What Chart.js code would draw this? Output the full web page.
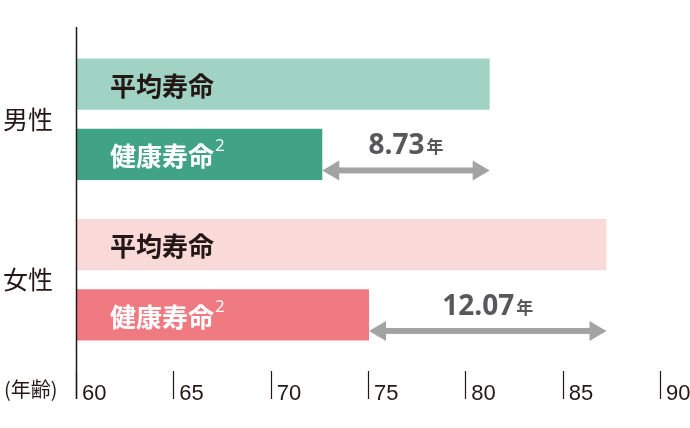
<!DOCTYPE html>
<html lang="ja">
<head>
<meta charset="utf-8">
<title>平均寿命と健康寿命</title>
<script src="https://cdn.jsdelivr.net/npm/chart.js@4.4.1/dist/chart.umd.min.js"></script>
<style>
  html, body { margin: 0; padding: 0; background: #fff; }
  #wrap { width: 690px; height: 428px; position: relative; }
</style>
</head>
<body>
<div id="wrap"><canvas id="lifeChart"></canvas></div>
<script>
// データ
const groups = ['男性', '女性'];
const seriesNames = ['平均寿命', '健康寿命'];
const noteMark = '2';
const avgLife = [81.2, 87.2];
const healthyLife = [72.6, 75.0];
const gapValues = ['8.73', '12.07'];
const gapUnit = '年';
const xTicks = [60, 65, 70, 75, 80, 85, 90];
const axisUnit = '(年齢)';

const avgColors = ['#a1d3c4', '#fad9d9'];
const healthyColors = ['#40a385', '#ef7a82'];
const textDark = '#231815';
const gapGray = '#a3a3a3';
const jpFont = "'Noto Sans CJK JP', sans-serif";

function drawDoubleArrow(ctx, x1, x2, y) {
    const head = 17, half = 10;
    ctx.fillStyle = gapGray;
    ctx.fillRect(x1 + head - 1, y - 3, (x2 - x1) - 2 * head + 2, 6);
    ctx.beginPath();
    ctx.moveTo(x1, y);
    ctx.lineTo(x1 + head, y - half);
    ctx.lineTo(x1 + head, y + half);
    ctx.closePath();
    ctx.fill();
    ctx.beginPath();
    ctx.moveTo(x2, y);
    ctx.lineTo(x2 - head, y - half);
    ctx.lineTo(x2 - head, y + half);
    ctx.closePath();
    ctx.fill();
}

// 軸線・目盛り・バー内ラベル・差の矢印
const decorations = {
    id: 'decorations',
    afterDatasetsDraw(chart) {
        const ctx = chart.ctx;
        const area = chart.chartArea;
        const xScale = chart.scales.x;
        const labelX = area.left + 33;
        ctx.save();

        ctx.strokeStyle = textDark;
        ctx.lineWidth = 1.5;
        ctx.beginPath();
        ctx.moveTo(area.left - 0.5, 27);
        ctx.lineTo(area.left - 0.5, area.bottom + 39);
        ctx.stroke();

        ctx.lineWidth = 1.2;
        xTicks.forEach(v => {
            const x = Math.round(xScale.getPixelForValue(v)) - 0.5;
            ctx.beginPath();
            ctx.moveTo(x, area.bottom + 11);
            ctx.lineTo(x, area.bottom + 39);
            ctx.stroke();
        });

        ctx.fillStyle = textDark;
        ctx.font = '20px ' + jpFont;
        ctx.textAlign = 'left';
        ctx.textBaseline = 'alphabetic';
        ctx.fillText(axisUnit, 4, area.bottom + 37);

        const avgMeta = chart.getDatasetMeta(0);
        const hMeta = chart.getDatasetMeta(1);

        avgMeta.data.forEach(bar => {
            ctx.font = 'bold 26px ' + jpFont;
            ctx.fillStyle = textDark;
            ctx.textBaseline = 'middle';
            ctx.fillText(seriesNames[0], labelX, bar.y + 2);
        });

        hMeta.data.forEach((bar, i) => {
            ctx.font = 'bold 26px ' + jpFont;
            ctx.fillStyle = '#ffffff';
            ctx.textBaseline = 'middle';
            ctx.fillText(seriesNames[1], labelX, bar.y + 2);
            const w = ctx.measureText(seriesNames[1]).width;
            ctx.font = '17px "Open Sans", sans-serif';
            ctx.textBaseline = 'alphabetic';
            ctx.fillText(noteMark, labelX + w + 1, bar.y - 3);

            const start = bar.x;
            const end = avgMeta.data[i].x;
            const y = bar.y + 16;
            drawDoubleArrow(ctx, start, end, y);

            ctx.font = 'bold 28px "Open Sans", sans-serif';
            const numW = ctx.measureText(gapValues[i]).width;
            ctx.font = 'bold 17px ' + jpFont;
            const unitW = ctx.measureText(gapUnit).width;
            const x0 = (start + end) / 2 - (numW + 2 + unitW) / 2;
            ctx.fillStyle = '#58585a';
            ctx.font = 'bold 28px "Open Sans", sans-serif';
            ctx.fillText(gapValues[i], x0, y - 16);
            ctx.font = 'bold 17px ' + jpFont;
            ctx.fillText(gapUnit, x0 + numW + 2, y - 17);
        });

        ctx.restore();
    }
};

const ctx = document.getElementById('lifeChart').getContext('2d');
new Chart(ctx, {
    type: 'bar',
    data: {
        labels: groups,
        datasets: [{
            label: seriesNames[0],
            data: avgLife,
            backgroundColor: avgColors,
            borderWidth: 0,
            categoryPercentage: 0.877,
            barPercentage: 0.727
        }, {
            label: seriesNames[1],
            data: healthyLife,
            backgroundColor: healthyColors,
            borderWidth: 0,
            categoryPercentage: 0.877,
            barPercentage: 0.727
        }]
    },
    options: {
        indexAxis: 'y',
        responsive: true,
        maintainAspectRatio: false,
        animation: false,
        layout: {
            padding: { top: 34, right: 29, bottom: 0, left: 0 }
        },
        plugins: {
            legend: { display: false },
            tooltip: { enabled: false }
        },
        scales: {
            x: {
                type: 'linear',
                min: 60,
                max: 90,
                grid: { display: false, drawTicks: false },
                border: { display: false },
                afterBuildTicks: scale => {
                    scale.ticks = xTicks.map(v => ({ value: v }));
                },
                ticks: {
                    autoSkip: false,
                    align: 'start',
                    labelOffset: 5,
                    padding: 21,
                    color: textDark,
                    font: { family: "'Liberation Sans', Arial, sans-serif", size: 22 }
                },
                afterFit: scale => {
                    scale.height = 68;
                    scale.paddingLeft = 0;
                    scale.paddingRight = 0;
                }
            },
            y: {
                grid: { display: false, drawTicks: false },
                border: { display: false },
                ticks: {
                    color: textDark,
                    padding: 24,
                    font: { family: jpFont, size: 25 }
                },
                afterFit: scale => {
                    scale.width = 77;
                }
            }
        }
    },
    plugins: [decorations]
});
</script>
</body>
</html>
